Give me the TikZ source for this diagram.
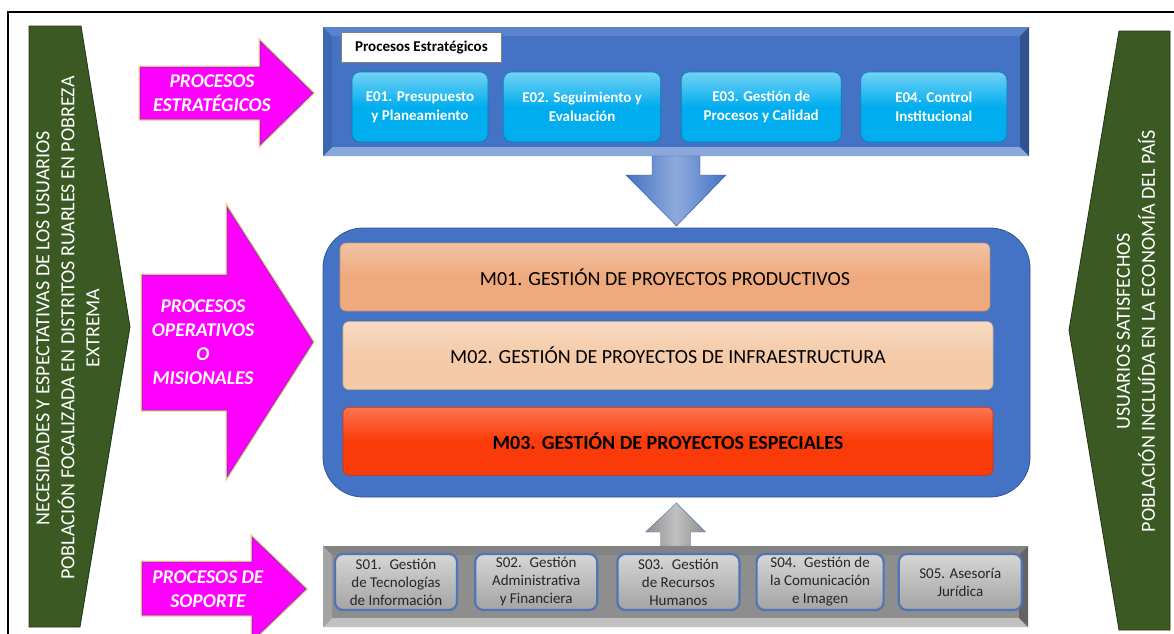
\documentclass[tikz,border=0pt]{standalone}
\usepackage{fontspec}
\setmainfont{Carlito}
\usetikzlibrary{positioning, calc}

\definecolor{Olive}{HTML}{3B5A23}
\definecolor{OliveEdge}{HTML}{1F3214}
\definecolor{Fuchsia}{HTML}{FF00FF}
\definecolor{Glow}{HTML}{F6C49A}
\definecolor{PanelBlue}{HTML}{4472C4}
\definecolor{PanelEdge}{HTML}{2F5597}
\definecolor{Sky}{HTML}{00ADEE}
\definecolor{Sand}{HTML}{EEA97D}
\definecolor{Peach}{HTML}{F4CAA8}
\definecolor{Fire}{HTML}{FA3A08}
\definecolor{Steel}{HTML}{8E8E8E}
\definecolor{Frame}{HTML}{4F74B8}

\tikzstyle{Panel} = [inner sep=0pt, outer sep=0pt]
\tikzstyle{Ebox} = [rounded corners=8pt, inner sep=2pt, minimum height=70pt,
align=center, text=white, font=\fontsize{15}{19}\selectfont\bfseries,
top color=Sky!55!white, bottom color=Sky, middle color=Sky,
draw=Sky!75!black, line width=0.6pt]
\tikzstyle{Sbox} = [rounded corners=8pt, inner sep=1pt, minimum height=56pt,
align=center, text=black!85, font=\fontsize{15}{18}\selectfont,
top color=white!84!black, bottom color=white!64!black,
draw=Frame, line width=2.2pt]
\tikzstyle{Pink} = [preaction={draw=Glow, line width=3pt}, fill=Fuchsia,
draw=blue!40!black!70, line width=0.5pt]
\tikzstyle{PinkText} = [text=white, align=center,
font=\fontsize{19.5}{24}\selectfont\bfseries\itshape]
\tikzstyle{Green} = [fill=Olive, draw=OliveEdge, line width=0.8pt]
\tikzstyle{GreenText} = [text=white, align=center, rotate=90,
font=\fontsize{20}{25}\selectfont]
\tikzset{Mbox/.style={rounded corners=6pt, minimum width=650pt,
minimum height=68pt, top color=#1!70!white, bottom color=#1, middle color=#1,
draw=#1!85!black, line width=0.6pt, font=\fontsize{20}{22}\selectfont}}

\newcommand{\bevel}[6]{%
\fill[#3] (#1.north west) -- (#1.north east) -- ([xshift=-#2,yshift=-#2]#1.north east) -- ([xshift=#2,yshift=-#2]#1.north west) -- cycle;
\fill[#4] (#1.south west) -- (#1.south east) -- ([xshift=-#2,yshift=#2]#1.south east) -- ([xshift=#2,yshift=#2]#1.south west) -- cycle;
\fill[#5] (#1.north west) -- ([xshift=#2,yshift=-#2]#1.north west) -- ([xshift=#2,yshift=#2]#1.south west) -- (#1.south west) -- cycle;
\fill[#6] (#1.north east) -- ([xshift=-#2,yshift=-#2]#1.north east) -- ([xshift=-#2,yshift=#2]#1.south east) -- (#1.south east) -- cycle;}

\begin{document}
\begin{tikzpicture}[x=1pt, y=-1pt]
    \useasboundingbox (0,0) rectangle (1174,633);
    \draw[line width=2pt] (8,645) -- (8,12) -- (1180,12);

    % entrada y salida
    \draw[Green] (29,26) -- (81,26) -- (130,327) -- (80,627) -- (29,627) -- cycle;
    \draw[Green] (1119,31) -- (1170,31) -- (1170,630) -- (1119,630) -- (1069,330) -- cycle;
    \node[GreenText] (need) at (68,328) {NECESIDADES Y ESPECTATIVAS DE LOS USUARIOS\\
        POBLACIÓN FOCALIZADA EN DISTRITOS RUARLES EN POBREZA\\ EXTREMA};
    \node[GreenText] (sat) at (1136,331) {USUARIOS SATISFECHOS\\
        POBLACIÓN INCLUÍDA EN LA ECONOMÍA DEL PAÍS};

    % flechas
    \draw[Pink] (140,67) -- (260,67) -- (260,41) -- (313,93) -- (260,145) -- (260,119) -- (140,119) -- cycle;
    \draw[Pink] (142,275) -- (227,275) -- (227,207) -- (313,342) -- (227,477) -- (227,410) -- (142,410) -- cycle;
    \draw[Pink] (142,562) -- (252,562) -- (252,537) -- (306,589) -- (252,641) -- (252,615) -- (142,615) -- cycle;
    \node[PinkText] (pe) at (212,93) {PROCESOS\\ ESTRATÉGICOS};
    \node[PinkText] (po) at (203,342) {PROCESOS\\ OPERATIVOS\\ O\\ MISIONALES};
    \node[PinkText] (ps) at (208,589) {PROCESOS DE\\ SOPORTE};

    % estrategicos
    \node[Panel, fill=PanelBlue, minimum width=706pt, minimum height=129pt] (tp) at (676,91.5) {};
    \bevel{tp}{9pt}{PanelBlue!88!white}{PanelBlue!62!white}{PanelBlue!90!black}{PanelBlue!72!black}
    \node[fill=white, draw=gray, line width=0.8pt, anchor=north west, minimum width=160pt,
        minimum height=30pt, font=\fontsize{15}{17}\selectfont\bfseries] (tt) at (341,32) {Procesos Estratégicos};
    \node[Ebox, minimum width=136pt] (e1) at (420,107) {E01. Presupuesto\\ y Planeamiento};
    \node[Ebox, minimum width=157pt, right=15pt of e1] (e2) {E02. Seguimiento y\\ Evaluación};
    \node[Ebox, minimum width=160pt, right=20pt of e2] (e3) {E03. Gestión de\\ Procesos y Calidad};
    \node[Ebox, minimum width=146pt, right=19pt of e3] (e4) {E04. Control\\ Institucional};

    % misionales
    \node[Panel, fill=PanelBlue, draw=PanelEdge, line width=0.8pt, rounded corners=40pt,
        minimum width=707pt, minimum height=269pt] (mp) at (676.5,362.5) {};
    \node[Mbox=Sand] (m1) at (665,277) {M01. GESTIÓN DE PROYECTOS PRODUCTIVOS};
    \node[Mbox=Peach, below=10pt of m1, xshift=3pt] (m2) {M02. GESTIÓN DE PROYECTOS DE INFRAESTRUCTURA};
    \node[Mbox=Fire, below=17pt of m2, font=\fontsize{20}{22}\selectfont\bfseries] (m3) {M03. GESTIÓN DE PROYECTOS ESPECIALES};

    \draw[left color=PanelBlue, right color=PanelBlue, middle color=PanelBlue!60!white, draw=PanelEdge]
        ($(tp.south)+(-24,0)$) -- ++(0,19) -- ++(-26,0) -- ($(mp.north)+(0,-2)$)
        -- ($(tp.south)+(50,19)$) -- ++(-26,0) -- ++(0,-19) -- cycle;

    % soporte
    \node[Panel, fill=Steel, minimum width=705pt, minimum height=81pt] (bp) at (675.5,586.5) {};
    \bevel{bp}{9pt}{Steel!92!black}{Steel!55!white}{Steel!80!white}{Steel!70!black}
    \node[Sbox, minimum width=122pt] (s1) at (396,582) {S01.~ Gestión\\ de Tecnologías\\ de Información};
    \node[Sbox, minimum width=122pt, right=16pt of s1] (s2) {S02.~ Gestión\\ Administrativa\\ y Financiera};
    \node[Sbox, minimum width=122pt, right=18pt of s2] (s3) {S03.~ Gestión\\ de Recursos\\ Humanos};
    \node[Sbox, minimum width=127pt, right=15pt of s3] (s4) {S04.~ Gestión de\\ la Comunicación\\ e Imagen};
    \node[Sbox, minimum width=123pt, right=13pt of s4] (s5) {S05. Asesoría\\ Jurídica};

    \draw[left color=Steel, right color=Steel, middle color=Steel!55!white, draw=Frame]
        ($(bp.north)+(-15,0)$) -- ++(0,-14) -- ++(-15,0) -- ($(mp.south)+(0,6)$)
        -- ($(bp.north)+(30,-14)$) -- ++(-15,0) -- ++(0,14) -- cycle;
\end{tikzpicture}
\end{document}
